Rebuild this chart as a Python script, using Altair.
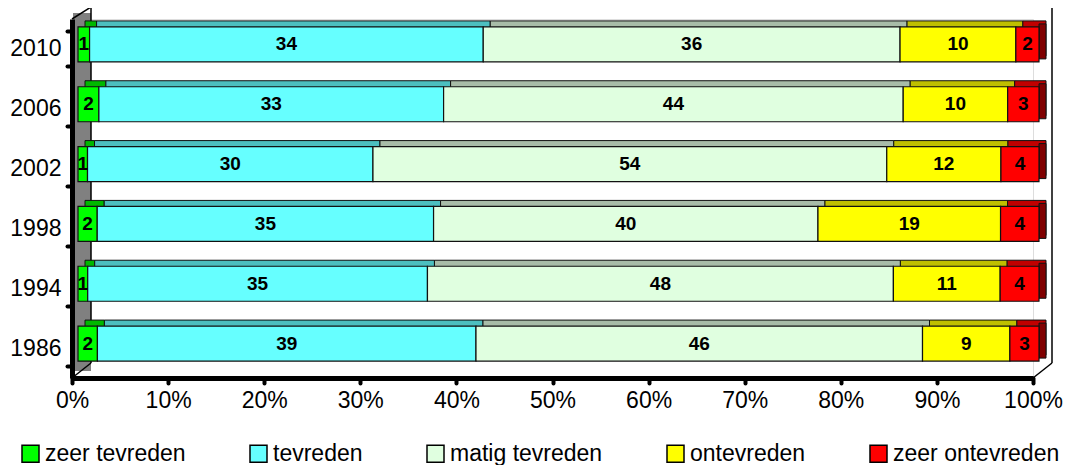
import altair as alt
import pandas as pd

years = ["2010", "2006", "2002", "1998", "1994", "1986"]
categories = ["zeer tevreden", "tevreden", "matig tevreden", "ontevreden", "zeer ontevreden"]
zeer_tevreden = [1, 2, 1, 2, 1, 2]
tevreden = [34, 33, 30, 35, 35, 39]
matig_tevreden = [36, 44, 54, 40, 48, 46]
ontevreden = [10, 10, 12, 19, 11, 9]
zeer_ontevreden = [2, 3, 4, 4, 4, 3]
x_ticks = [0, 0.1, 0.2, 0.3, 0.4, 0.5, 0.6, 0.7, 0.8, 0.9, 1.0]

front_colors = ["#00FF00", "#66FFFF", "#E0FFE0", "#FFFF00", "#FF0000"]
top_colors = ["#00B800", "#4CBFBF", "#A8BCA8", "#BFBF00", "#C00000"]
side_color = "#800000"

series = [zeer_tevreden, tevreden, matig_tevreden, ontevreden, zeer_ontevreden]
rows = []
for ci, (cat, vals) in enumerate(zip(categories, series)):
    for yr, v in zip(years, vals):
        rows.append({"year": yr, "category": cat, "order": ci, "value": v})
df = pd.DataFrame(rows)

FONT = "Liberation Sans"

ysc = alt.Scale(domain=years, paddingInner=0.415, paddingOuter=0.2075)
xsc = alt.Scale(domain=[0, 1], nice=False, zero=True)

x_axis = alt.Axis(values=x_ticks, format=".0%", title=None, grid=False,
                  labelFontSize=23, labelColor="black", labelFont=FONT,
                  labelFlush=False, labelOverlap=False,
                  domainColor="black", domainWidth=5, tickColor="black",
                  tickWidth=4, tickSize=5, tickCap="round", labelPadding=6,
                  zindex=1)
y_axis = alt.Axis(title=None, grid=False, tickBand="extent",
                  labelFontSize=23, labelColor="black", labelFont=FONT,
                  domainColor="black", domainWidth=5, tickColor="black",
                  tickWidth=4, tickSize=5, tickCap="round", labelPadding=6,
                  zindex=1)

base = alt.Chart(df).transform_stack(
    stack="value", groupby=["year"],
    sort=[alt.SortField("order", order="ascending")],
    as_=["v0", "v1"], offset="normalize"
).transform_calculate(mid="(datum.v0 + datum.v1) / 2")

Y = alt.Y("year:N", scale=ysc, sort=years, axis=y_axis)

# 3D top faces (shifted darker copies behind the front faces)
depth = base.mark_bar(stroke="#111", strokeWidth=1,
                      xOffset=13, x2Offset=13, yOffset=-10.5, y2Offset=-10.5).encode(
    x=alt.X("v0:Q", scale=xsc, axis=x_axis), x2="v1:Q", y=Y,
    color=alt.Color("category:N", scale=alt.Scale(domain=categories, range=top_colors), legend=None),
    order=alt.Order("order:Q"),
)

# right side face of the last segment
side = base.transform_filter(alt.datum.order == 4).mark_bar(
    stroke="#111", strokeWidth=1, color=side_color,
    xOffset=6, x2Offset=13, yOffset=-7.5, y2Offset=-7.5).encode(
    x=alt.X("v1:Q", scale=xsc, axis=x_axis), x2="v1:Q", y=Y,
)

front = base.mark_bar(stroke="#111", strokeWidth=1.2,
                      xOffset=6, x2Offset=6, yOffset=-4.5, y2Offset=-4.5).encode(
    x=alt.X("v0:Q", scale=xsc, axis=x_axis), x2="v1:Q", y=Y,
    color=alt.Color("category:N", scale=alt.Scale(domain=categories, range=front_colors),
                    legend=alt.Legend(title=None, orient="none", legendX=-53, legendY=423,
                                      direction="horizontal", columns=5, columnPadding=61,
                                      labelFontSize=23, labelFont=FONT, labelColor="black",
                                      labelLimit=400,
                                      symbolType="square", symbolSize=289,
                                      symbolStrokeColor="black", symbolStrokeWidth=1.5,
                                      labelOffset=3, padding=0)),
    order=alt.Order("order:Q"),
)

labels = base.mark_text(font=FONT, fontSize=19, fontWeight="bold", color="black",
                        baseline="middle", align="center", xOffset=6, yOffset=-4.5).encode(
    x=alt.X("mid:Q", scale=xsc, axis=x_axis), y=Y,
    text=alt.Text("value:Q"),
)

one = pd.DataFrame({"d": [0]})
dec = alt.Chart(one)
wall_top = dec.mark_rule(color="black", strokeWidth=1.5).encode(
    x=alt.value(19), x2=alt.value(980), y=alt.value(-12), y2=alt.value(-12))
wall_right = dec.mark_rule(color="black", strokeWidth=1.5).encode(
    x=alt.value(980), x2=alt.value(980), y=alt.value(-12), y2=alt.value(344))
floor_diag = dec.mark_rule(color="black", strokeWidth=1.5).encode(
    x=alt.value(961), x2=alt.value(980), y=alt.value(359), y2=alt.value(344))
left_wall = dec.mark_rect(color="#808080").encode(
    x=alt.value(1), x2=alt.value(19), y=alt.value(-6), y2=alt.value(352))
lw_edge = dec.mark_rule(color="black", strokeWidth=1.5).encode(
    x=alt.value(19), x2=alt.value(19), y=alt.value(-12), y2=alt.value(344))
lw_top = dec.mark_rule(color="black", strokeWidth=1.5).encode(
    x=alt.value(0), x2=alt.value(19), y=alt.value(0), y2=alt.value(-12))
lw_bot = dec.mark_rule(color="black", strokeWidth=1.5).encode(
    x=alt.value(0), x2=alt.value(19), y=alt.value(359), y2=alt.value(344))

chart = alt.layer(
    wall_top, wall_right, floor_diag, left_wall, lw_edge, lw_top, lw_bot,
    depth, side, front, labels
).resolve_scale(color="independent").properties(
    width=961, height=359,
    autosize=alt.AutoSizeParams(type="none"),
    padding={"left": 64, "top": 11, "right": 40, "bottom": 87},
).configure_view(strokeWidth=0).configure(font=FONT)

chart.save("out.html", embed_options={"renderer": "svg", "actions": False})
